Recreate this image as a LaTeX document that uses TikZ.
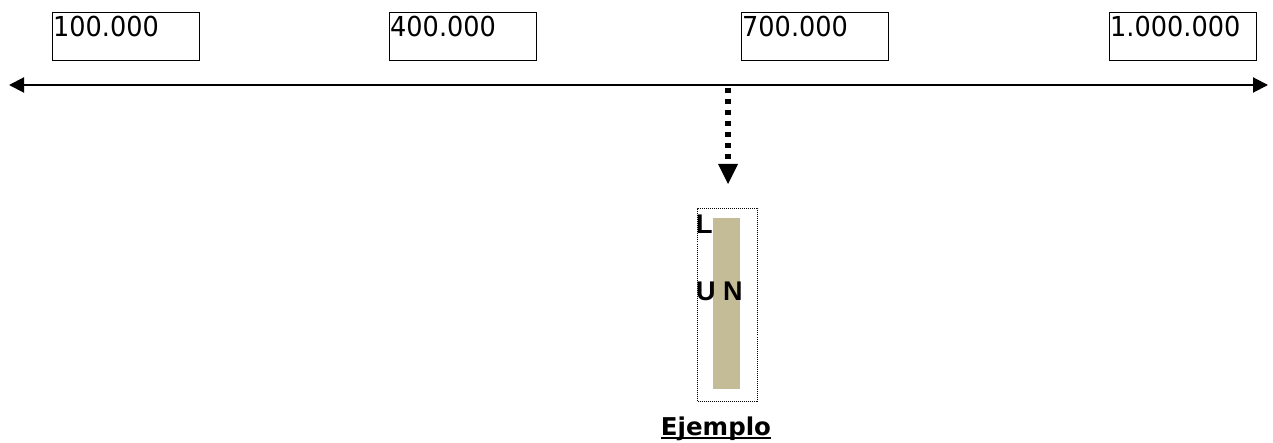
\documentclass[tikz,border=0pt]{standalone}
\usepackage{fontspec}
\setmainfont{DejaVu Sans}
\newfontfamily\labelfont{Liberation Sans}
\usetikzlibrary{arrows.meta}
\begin{document}
\begin{tikzpicture}[x=1pt,y=-1pt,
  valbox/.style={draw,line width=1.3pt,minimum width=147pt,minimum height=48pt,inner sep=0pt},
  valtext/.style={anchor=base west,inner sep=0pt,font=\fontsize{27.5}{27.5}\selectfont},
  tag/.style={inner sep=0pt,font=\labelfont\bfseries\fontsize{27}{27}\selectfont},
]
\useasboundingbox (0,0) rectangle (1273,443);
% value boxes with their labels
\foreach \n/\x/\t in {a/52/100.000,b/389/400.000,c/741/700.000,d/1109/1.000.000}{
  \node[valbox,anchor=north west] (\n) at (\x,12) {};
  \node[valtext] (\n t) at ([xshift=1pt,yshift=-25pt]\n.north west) {\scalebox{0.93}[1]{\t}};
}
% number line
\coordinate (L) at (9,85);
\coordinate (R) at (1268,85);
\draw[line width=2pt,{Triangle[length=15pt,width=15pt]}-{Triangle[length=15pt,width=15pt]}] (L) -- (R);
% dotted pointer
\coordinate (p0) at (728,88);
\coordinate (p1) at (728,184);
\draw[line width=6pt,dash pattern=on 5pt off 6pt,-{Triangle[length=20pt,width=20pt,line width=0pt]}] (p0) -- (p1);
% example element
\node[draw,densely dotted,line width=1pt,minimum width=60pt,minimum height=193pt,anchor=north west,inner sep=0pt] (frame) at (697,208) {};
\fill[fill={rgb,255:red,196;green,188;blue,150}] (713,218) rectangle (740,389);
\node[tag,anchor=base west] (l1) at (696,234) {L};
\node[tag,anchor=base west] (l2) at (696,301) {U N};
\node[inner sep=0pt,anchor=base,font=\bfseries\fontsize{24.5}{24.5}\selectfont] (ex) at (716,435) {Ejemplo};
\draw[line width=2pt] ([yshift=-3pt]ex.base west) -- ([yshift=-3pt]ex.base east);
\end{tikzpicture}
\end{document}
